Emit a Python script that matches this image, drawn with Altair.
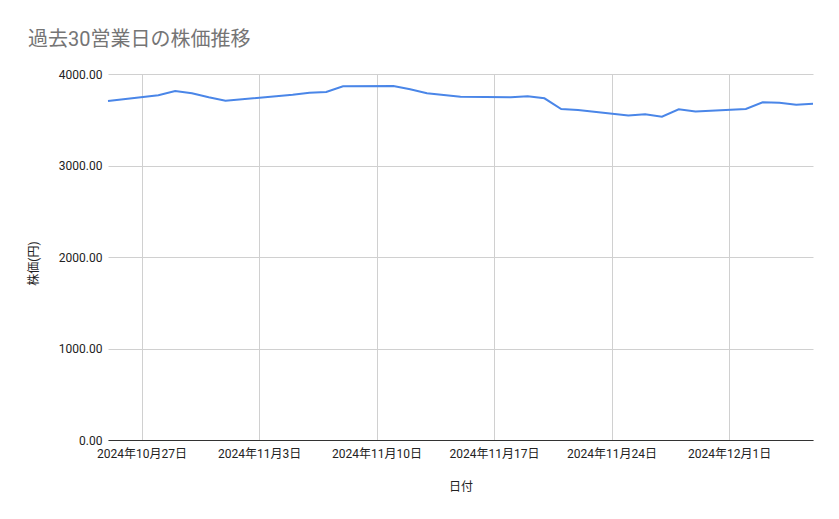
import altair as alt
import pandas as pd

# 30 business days (Nov 4 is a holiday, weekends skipped)
dates = [
    "2024-10-25", "2024-10-28", "2024-10-29", "2024-10-30", "2024-10-31",
    "2024-11-01", "2024-11-05", "2024-11-06", "2024-11-07", "2024-11-08",
    "2024-11-11", "2024-11-12", "2024-11-13", "2024-11-14", "2024-11-15",
    "2024-11-18", "2024-11-19", "2024-11-20", "2024-11-21", "2024-11-22",
    "2024-11-25", "2024-11-26", "2024-11-27", "2024-11-28", "2024-11-29",
    "2024-12-02", "2024-12-03", "2024-12-04", "2024-12-05", "2024-12-06",
]
prices = [
    3705, 3767, 3814, 3789, 3745,
    3708, 3773, 3795, 3803, 3866,
    3869, 3833, 3789, 3770, 3752,
    3745, 3756, 3734, 3617, 3607,
    3546, 3560, 3534, 3614, 3590,
    3617, 3690, 3686, 3664, 3676,
]
tick_dates = [(10, 27), (11, 3), (11, 10), (11, 17), (11, 24), (12, 1)]
y_ticks = [0, 1000, 2000, 3000, 4000]

FONT = "Roboto, Noto Sans CJK JP, sans-serif"

df = pd.DataFrame({"日付": [d + "T00:00:00" for d in dates], "株価": prices})

x_axis = alt.Axis(
    values=[alt.DateTime(year=2024, month=m, date=d) for m, d in tick_dates],
    format="%Y年%-m月%-d日",
    title="日付",
    labelAngle=0,
    labelPadding=8,
    titlePadding=22,
    ticks=False,
    grid=True,
    gridColor="#d0d0d0",
    domainColor="#333333",
)

y_axis = alt.Axis(
    values=y_ticks,
    format=".2f",
    title="株価(円)",
    titleX=-75,
    titleY=189,
    titleAngle=-90,
    titleAlign="center",
    titleBaseline="middle",
    labelPadding=6,
    ticks=False,
    domain=False,
    gridColor="#d0d0d0",
)

chart = (
    alt.Chart(df)
    .mark_line(color="#4a86e8", strokeWidth=2)
    .encode(
        x=alt.X(
            "日付:T",
            scale=alt.Scale(
                domain=[
                    alt.DateTime(year=2024, month=10, date=25),
                    alt.DateTime(year=2024, month=12, date=6),
                ],
                nice=False,
            ),
            axis=x_axis,
        ),
        y=alt.Y("株価:Q", scale=alt.Scale(domain=[0, 4000], nice=False), axis=y_axis),
    )
    .properties(
        width=705,
        height=366,
        autosize="none",
        padding={"left": 100, "top": 66, "right": 18, "bottom": 60},
        title=alt.TitleParams(
            "過去30営業日の株価推移",
            anchor="start",
            frame="group",
            dx=-80,
            offset=18,
            fontSize=20,
            fontWeight="normal",
            color="#757575",
            font=FONT,
        ),
    )
    .configure_view(stroke=None)
    .configure_axis(
        labelFont=FONT,
        titleFont=FONT,
        labelFontSize=12,
        titleFontSize=12,
        labelColor="#222222",
        titleColor="#222222",
        titleFontWeight="normal",
    )
)

chart.save("out.html", embed_options={"renderer": "svg", "actions": False})
